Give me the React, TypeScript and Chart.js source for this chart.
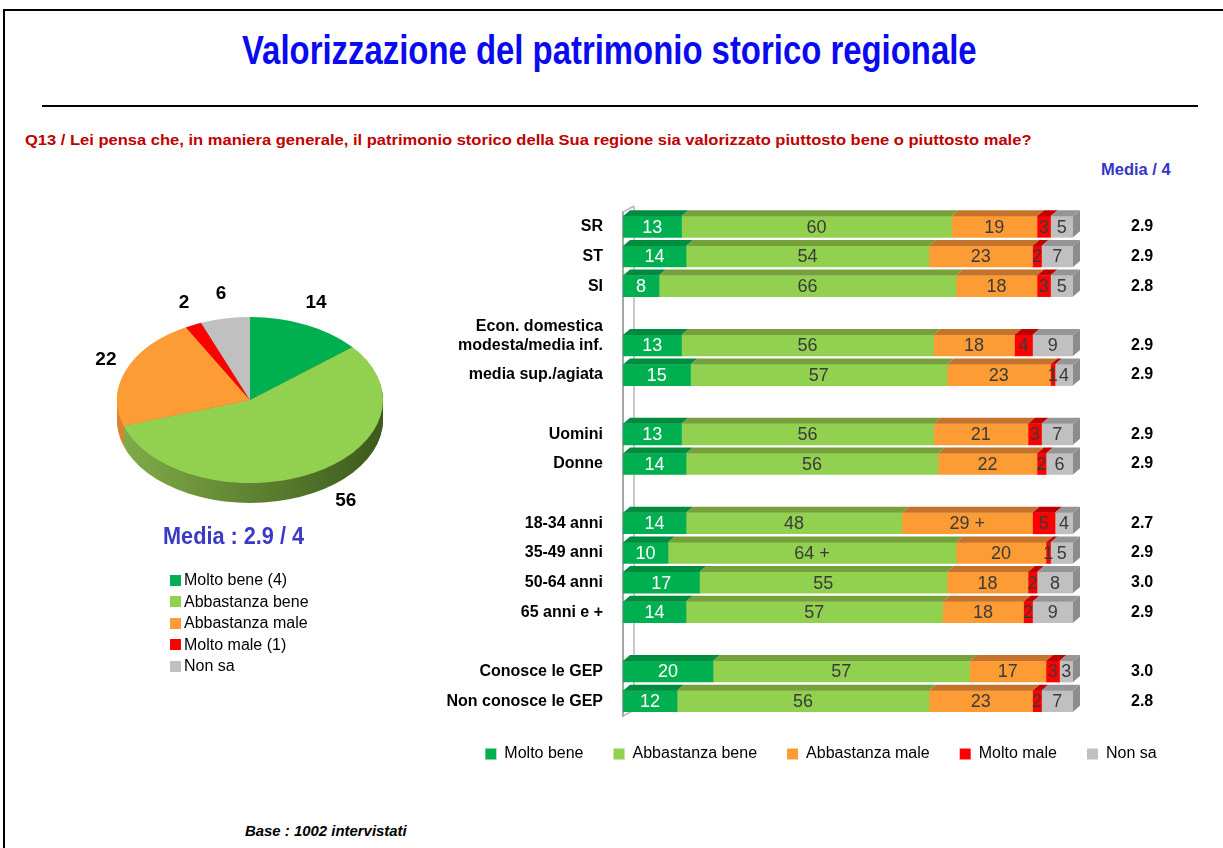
import React, { useEffect, useLayoutEffect, useRef } from 'react';
import { Chart, registerables } from 'chart.js';

Chart.register(...registerables);

const FONT = "'Liberation Sans', Arial, Helvetica, sans-serif";

// ---------- data ----------
const seriesLabels = ['Molto bene', 'Abbastanza bene', 'Abbastanza male', 'Molto male', 'Non sa'];
const pieLegendLabels = ['Molto bene (4)', 'Abbastanza bene', 'Abbastanza male', 'Molto male (1)', 'Non sa'];
const pieValues = [14, 56, 22, 2, 6];

const categories: (string | string[])[] = [
  'SR', 'ST', 'SI', '',
  ['Econ. domestica', 'modesta/media inf.', ''], 'media sup./agiata', '',
  'Uomini', 'Donne', '',
  '18-34 anni', '35-49 anni', '50-64 anni', '65 anni e +', '',
  'Conosce le GEP', 'Non conosce le GEP',
];
const moltoBene = [13, 14, 8, null, 13, 15, null, 13, 14, null, 14, 10, 17, 14, null, 20, 12];
const abbastanzaBene = [60, 54, 66, null, 56, 57, null, 56, 56, null, 48, 64, 55, 57, null, 57, 56];
const abbastanzaMale = [19, 23, 18, null, 18, 23, null, 21, 22, null, 29, 20, 18, 18, null, 17, 23];
const moltoMale = [3, 2, 3, null, 4, 1, null, 3, 2, null, 5, 1, 2, 2, null, 3, 2];
const nonSa = [5, 7, 5, null, 9, 4, null, 7, 6, null, 4, 5, 8, 9, null, 3, 7];
const mediaLabels = ['2.9', '2.9', '2.8', '', '2.9', '2.9', '', '2.9', '2.9', '', '2.7', '2.9', '3.0', '2.9', '', '3.0', '2.8'];
// significantly higher values, marked with "+"
const significant = [
  { category: '18-34 anni', series: 2 },
  { category: '35-49 anni', series: 1 },
];

// ---------- styles ----------
const colors = ['#00b050', '#92d050', '#fd9b35', '#ff0000', '#c0c0c0'];
const topColors = ['#008c3f', '#76a03c', '#c4732c', '#c00000', '#959595'];
const sideColor = '#8c8c8c';
const pieSide: [string, string][] = [
  ['#009544', '#005a28'],
  ['#82ad48', '#3c5a1c'],
  ['#d9842e', '#8a4c14'],
  ['#d00000', '#7a0000'],
  ['#a9a9a9', '#6a6a6a'],
];
const DX = 7;
const DY = 6;
const PIE_DEPTH = 20;
const PIE_TILT = 0.624;

const bar3d = {
  id: 'bar3d',
  beforeDatasetsDraw(chart: any) {
    const { ctx, chartArea: a } = chart;
    ctx.save();
    ctx.strokeStyle = '#b8b8b8';
    ctx.lineWidth = 1.5;
    ctx.beginPath();
    ctx.moveTo(a.left + DX + 4, a.top - DY);
    ctx.lineTo(a.left + DX + 4, a.bottom - DY);
    ctx.moveTo(a.left, a.top);
    ctx.lineTo(a.left + DX + 4, a.top - DY);
    ctx.moveTo(a.left, a.bottom);
    ctx.lineTo(a.left + DX + 4, a.bottom - DY);
    ctx.stroke();
    ctx.restore();
  },
  afterDatasetsDraw(chart: any) {
    const ctx = chart.ctx;
    const datasets = chart.data.datasets;
    ctx.save();
    datasets.forEach((ds: any, di: number) => {
      const meta = chart.getDatasetMeta(di);
      meta.data.forEach((el: any, i: number) => {
        if (ds.data[i] == null) return;
        const { x, y, base, height } = el.getProps(['x', 'y', 'base', 'height'], true);
        const l = Math.min(x, base);
        const r = Math.max(x, base);
        const t = y - height / 2;
        ctx.fillStyle = topColors[di];
        ctx.beginPath();
        ctx.moveTo(l, t);
        ctx.lineTo(r, t);
        ctx.lineTo(r + DX, t - DY);
        ctx.lineTo(l + DX, t - DY);
        ctx.closePath();
        ctx.fill();
      });
    });
    const last = datasets.length - 1;
    chart.getDatasetMeta(last).data.forEach((el: any, i: number) => {
      if (datasets[last].data[i] == null) return;
      const { x, y, height } = el.getProps(['x', 'y', 'height'], true);
      const t = y - height / 2;
      const b = y + height / 2;
      ctx.fillStyle = sideColor;
      ctx.beginPath();
      ctx.moveTo(x, t);
      ctx.lineTo(x + DX, t - DY);
      ctx.lineTo(x + DX, b - DY);
      ctx.lineTo(x, b);
      ctx.closePath();
      ctx.fill();
    });
    ctx.font = `18px ${FONT}`;
    ctx.textAlign = 'center';
    ctx.textBaseline = 'middle';
    datasets.forEach((ds: any, di: number) => {
      const meta = chart.getDatasetMeta(di);
      meta.data.forEach((el: any, i: number) => {
        const v = ds.data[i];
        if (v == null) return;
        const { x, y, base } = el.getProps(['x', 'y', 'base'], true);
        const plus = significant.some((s) => s.category === categories[i] && s.series === di);
        ctx.fillStyle = di === 0 ? '#ffffff' : '#3a3a3a';
        ctx.fillText(String(v) + (plus ? ' +' : ''), (x + base) / 2, y + 1);
      });
    });
    ctx.restore();
  },
};

const pie3d = {
  id: 'pie3d',
  _saved: false,
  beforeDatasetsDraw(chart: any) {
    const ctx = chart.ctx;
    const arcs = chart.getDatasetMeta(0).data;
    (pie3d as any)._saved = false;
    if (!arcs.length) return;
    const { x: cx, y: cy, outerRadius: r } = arcs[0].getProps(['x', 'y', 'outerRadius'], true);
    for (let i = PIE_DEPTH; i >= 1; i--) {
      arcs.forEach((arc: any, k: number) => {
        const { startAngle, endAngle } = arc.getProps(['startAngle', 'endAngle'], true);
        ctx.save();
        ctx.translate(cx, cy + i);
        ctx.scale(1, PIE_TILT);
        const g = ctx.createLinearGradient(-r, 0, r, 0);
        g.addColorStop(0, pieSide[k][0]);
        g.addColorStop(1, pieSide[k][1]);
        ctx.fillStyle = g;
        ctx.beginPath();
        ctx.moveTo(0, 0);
        ctx.arc(0, 0, r, startAngle, endAngle);
        ctx.closePath();
        ctx.fill();
        ctx.restore();
      });
    }
    ctx.save();
    ctx.translate(cx, cy);
    ctx.scale(1, PIE_TILT);
    ctx.translate(-cx, -cy);
    (pie3d as any)._saved = true;
  },
  afterDatasetsDraw(chart: any) {
    const ctx = chart.ctx;
    if ((pie3d as any)._saved) ctx.restore();
    const arcs = chart.getDatasetMeta(0).data;
    const values = chart.data.datasets[0].data;
    ctx.save();
    ctx.font = `bold 19px ${FONT}`;
    ctx.fillStyle = '#000';
    ctx.textAlign = 'center';
    ctx.textBaseline = 'middle';
    arcs.forEach((arc: any, k: number) => {
      const { x, y, startAngle, endAngle, outerRadius } = arc.getProps(
        ['x', 'y', 'startAngle', 'endAngle', 'outerRadius'], true);
      const mid = (startAngle + endAngle) / 2;
      const s = Math.sin(mid);
      const c = Math.cos(mid);
      const lx = x + (outerRadius + 22) * c + (s > 0 ? 24 * s : 0);
      const ly = y + (outerRadius * PIE_TILT + 25) * s + (s > 0 ? PIE_DEPTH - 14 : 0);
      ctx.fillText(String(values[k]), lx, ly);
    });
    ctx.restore();
  },
};

function FitText(props: { text: string; x: number; y: number; w: number; font: string; color: string }) {
  const ref = useRef<HTMLSpanElement>(null);
  useLayoutEffect(() => {
    const el = ref.current;
    if (!el) return;
    const natural = el.offsetWidth;
    if (natural > 0) el.style.transform = `translateY(-50%) scaleX(${props.w / natural})`;
  }, [props.text, props.w, props.font]);
  return (
    <span
      ref={ref}
      style={{
        position: 'absolute', left: props.x, top: props.y, font: props.font, color: props.color,
        whiteSpace: 'nowrap', lineHeight: 1, transformOrigin: 'left center', transform: 'translateY(-50%)',
      }}
    >
      {props.text}
    </span>
  );
}

const noPad = (width: number) => (s: any) => {
  s.width = width;
  s.paddingTop = 0;
  s.paddingBottom = 0;
};

function BarChart() {
  const ref = useRef<HTMLCanvasElement>(null);
  useEffect(() => {
    if (!ref.current) return;
    const series = [moltoBene, abbastanzaBene, abbastanzaMale, moltoMale, nonSa];
    const chart = new Chart(ref.current, {
      type: 'bar',
      data: {
        labels: categories as any,
        datasets: series.map((d, i) => ({
          label: seriesLabels[i],
          data: d as any,
          backgroundColor: colors[i],
          borderWidth: 0,
          barThickness: 21,
        })),
      },
      options: {
        indexAxis: 'y',
        responsive: false,
        animation: false,
        events: [],
        layout: { padding: { top: 17, bottom: 1, left: 0, right: 0 } },
        plugins: {
          legend: {
            position: 'bottom',
            labels: {
              font: { family: FONT, size: 16 },
              color: '#000',
              boxWidth: 11,
              boxHeight: 11,
              padding: 30,
            },
          },
          tooltip: { enabled: false },
        },
        scales: {
          x: { display: false, stacked: true, min: 0, max: 100 },
          y: {
            stacked: true,
            offset: true,
            grid: { display: false, drawTicks: false },
            border: { display: true, color: '#a6a6a6', width: 2 },
            ticks: {
              autoSkip: false,
              padding: 20,
              color: '#000',
              font: { family: FONT, size: 16, weight: 'bold', lineHeight: 1.2 },
            },
            afterFit: noPad(193),
          },
          y2: {
            type: 'category',
            position: 'right',
            labels: mediaLabels,
            offset: true,
            grid: { display: false, drawTicks: false },
            border: { display: false },
            ticks: {
              autoSkip: false,
              padding: 58,
              color: '#000',
              font: { family: FONT, size: 16, weight: 'bold' },
            },
            afterFit: noPad(139),
          },
        } as any,
      },
      plugins: [bar3d],
    });
    return () => chart.destroy();
  }, []);
  return (
    <canvas ref={ref} width={782} height={578}
      style={{ position: 'absolute', left: 430, top: 195, width: 782, height: 578 }} />
  );
}

function PieChart() {
  const ref = useRef<HTMLCanvasElement>(null);
  useEffect(() => {
    if (!ref.current) return;
    const chart = new Chart(ref.current, {
      type: 'pie',
      data: {
        labels: pieLegendLabels,
        datasets: [{
          data: pieValues,
          backgroundColor: colors,
          borderWidth: 0,
          hoverOffset: 0,
          clip: false as any,
        }],
      },
      options: {
        responsive: false,
        animation: false,
        events: [],
        layout: { padding: { left: 57, right: 57, top: 17, bottom: 17 } },
        plugins: { legend: { display: false }, tooltip: { enabled: false } },
      },
      plugins: [pie3d as any],
    });
    return () => chart.destroy();
  }, []);
  return (
    <canvas ref={ref} width={380} height={300}
      style={{ position: 'absolute', left: 60, top: 250, width: 380, height: 300 }} />
  );
}

export default function App() {
  return (
    <div style={{
      position: 'absolute', left: 0, top: 0, width: 1223, height: 848, background: '#fff',
      overflow: 'hidden', fontFamily: FONT,
    }}>
      {/* frame */}
      <div style={{ position: 'absolute', left: 3, top: 9, width: 1220, height: 2, background: '#000' }} />
      <div style={{ position: 'absolute', left: 3, top: 9, width: 2, height: 839, background: '#000' }} />
      <div style={{ position: 'absolute', left: 42, top: 105, width: 1156, height: 2, background: '#000' }} />

      <FitText text="Valorizzazione del patrimonio storico regionale" x={242} y={50} w={735}
        font={`bold 40px ${FONT}`} color="#0a0af0" />
      <FitText
        text="Q13 / Lei pensa che, in maniera generale, il patrimonio storico della Sua regione sia valorizzato piuttosto bene o piuttosto male?"
        x={25} y={139} w={1007} font={`bold 15px ${FONT}`} color="#c00000" />
      <FitText text="Media / 4" x={1101} y={170} w={70} font={`bold 16px ${FONT}`} color="#3535c8" />

      <PieChart />

      <FitText text="Media : 2.9 / 4" x={163} y={536} w={141} font={`bold 24px ${FONT}`} color="#3a3ac6" />

      {pieLegendLabels.map((lab, i) => (
        <div key={lab} style={{ position: 'absolute', left: 170, top: 580 + i * 21.5 - 10, height: 20, display: 'flex', alignItems: 'center' }}>
          <div style={{ width: 11, height: 11, background: colors[i], marginRight: 3 }} />
          <span style={{ font: `16px ${FONT}`, color: '#000', whiteSpace: 'nowrap' }}>{lab}</span>
        </div>
      ))}

      <BarChart />

      <FitText text="Base : 1002 intervistati" x={245} y={831} w={162} font={`italic bold 14px ${FONT}`} color="#000" />
    </div>
  );
}
